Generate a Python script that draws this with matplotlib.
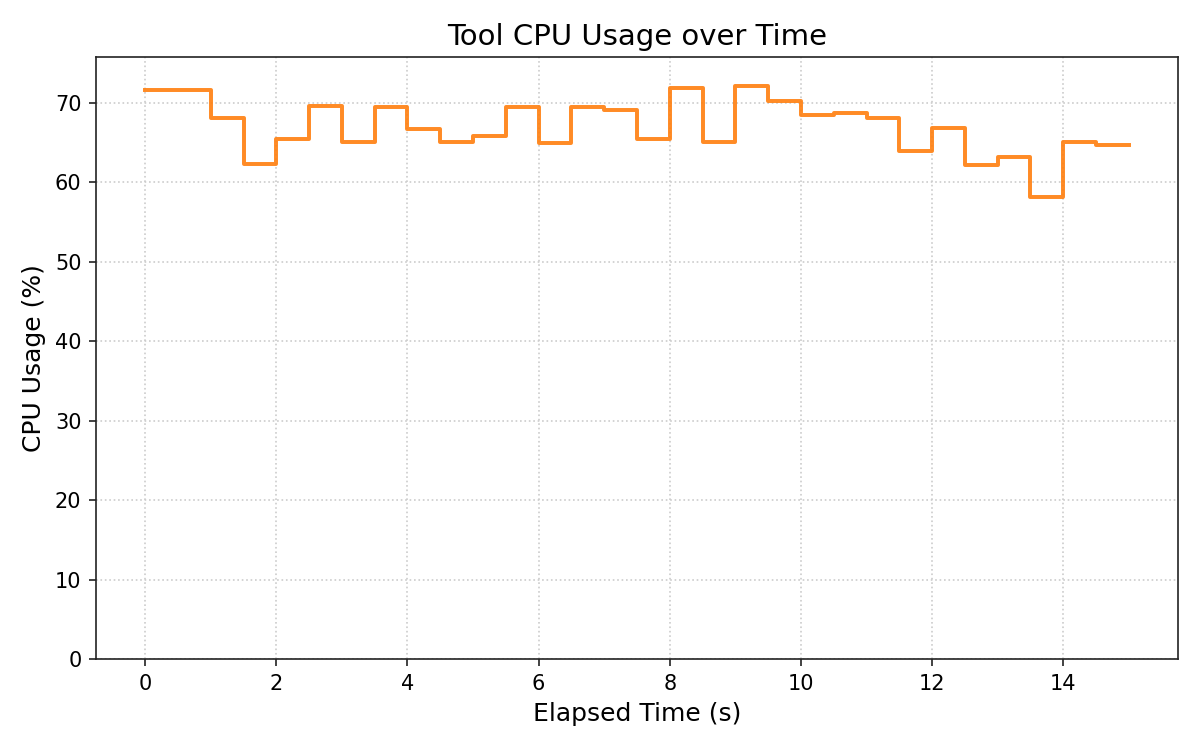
import matplotlib
matplotlib.use("Agg")
import matplotlib.pyplot as plt

time_s = [0.0, 0.5, 1.0, 1.5, 2.0, 2.5, 3.0, 3.5, 4.0, 4.5, 5.0, 5.5, 6.0, 6.5, 7.0, 7.5,
          8.0, 8.5, 9.0, 9.5, 10.0, 10.5, 11.0, 11.5, 12.0, 12.5, 13.0, 13.5, 14.0, 14.5, 15.0]
cpu_pct = [71.6, 71.6, 68.1, 62.3, 65.4, 69.6, 65.1, 69.4, 66.7, 65.1, 65.8, 69.4, 64.9, 69.5, 69.1, 65.4,
           71.8, 65.1, 72.1, 70.2, 68.4, 68.7, 68.1, 63.9, 66.8, 62.2, 63.2, 58.1, 65.1, 64.7, 64.7]

fig, ax = plt.subplots(figsize=(8, 5), dpi=150)
ax.step(time_s, cpu_pct, where="post", color="#ff7f0e", alpha=0.9, linewidth=1.9)
ax.set_ylim(0, max(cpu_pct) * 1.05)
ax.set_title("Tool CPU Usage over Time", fontsize=14)
ax.set_xlabel("Elapsed Time (s)", fontsize=12)
ax.set_ylabel("CPU Usage (%)", fontsize=12)
ax.tick_params(labelsize=10, color="#222222")
for sp in ax.spines.values():
    sp.set_color("#222222")
ax.grid(True, linestyle=":", color="#cccccc", linewidth=0.8)
fig.subplots_adjust(left=0.08, right=0.9817, top=0.9236, bottom=0.1213)
fig.savefig("out.png")
